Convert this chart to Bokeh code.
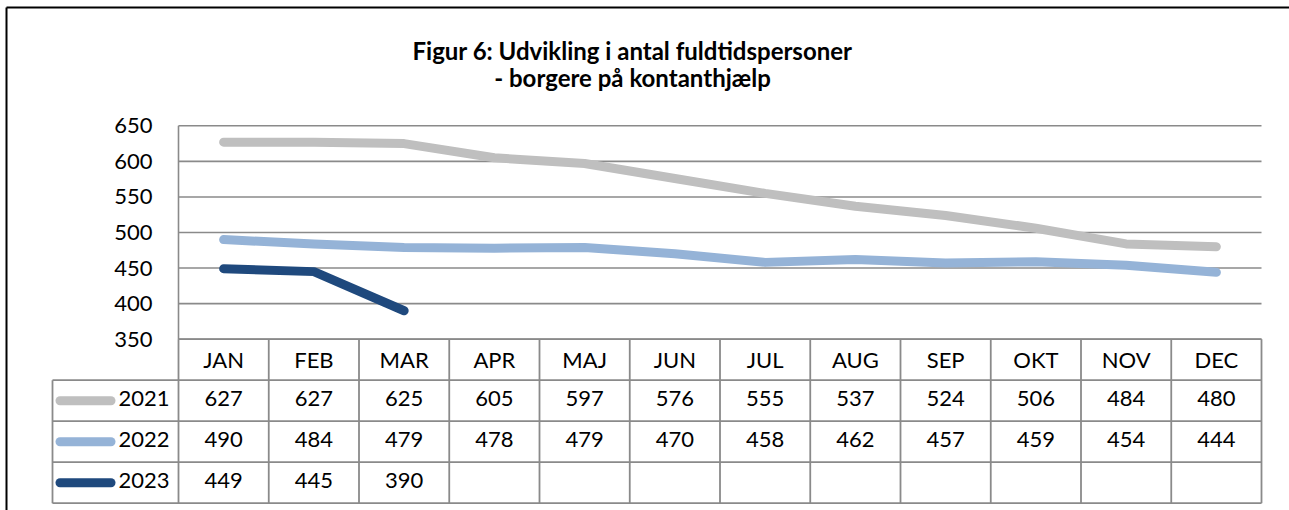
from bokeh.plotting import figure
from bokeh.models import Range1d
from bokeh.core.properties import value
from bokeh.embed import file_html
from bokeh.resources import INLINE

# ---------------- data ----------------
months = ["JAN", "FEB", "MAR", "APR", "MAJ", "JUN", "JUL", "AUG", "SEP", "OKT", "NOV", "DEC"]
years = ["2021", "2022", "2023"]
v2021 = [627, 627, 625, 605, 597, 576, 555, 537, 524, 506, 484, 480]
v2022 = [490, 484, 479, 478, 479, 470, 458, 462, 457, 459, 454, 444]
v2023 = [449, 445, 390]
y_ticks = [350, 400, 450, 500, 550, 600, 650]
title_lines = ["Figur 6: Udvikling i antal fuldtidspersoner", "- borgere på kontanthjælp"]

# ---------------- styles / layout ----------------
colors = ["#BFBFBF", "#95B3D7", "#1F497D"]
series = [v2021, v2022, v2023]
FONT = value("Lato")
GRID = "#8a8a8a"

W, H = 1289, 510
OX, OY = 0, 0            # canvas origin on the page
PL, PR = 178, 1261       # plot area left/right (page px)
Y650, Y350 = 125.3, 338.7
ROW_H = 41.0
LEG_L = 52
BX, BY = 6, 7            # outer chart border

colw = (PR - PL) / len(months)
kv = (Y350 - Y650) / (y_ticks[-1] - y_ticks[0])


def ux(px):
    return (px - PL) / colw


def vy(py):
    return y_ticks[-1] + (Y650 - py) / kv


def ty(py):
    return (py - Y350) / ROW_H


p = figure(width=W, height=H,
           x_range=Range1d(ux(OX), ux(OX + W)),
           y_range=Range1d(vy(OY + H), vy(OY)),
           x_axis_location=None, y_axis_location=None,
           output_backend="svg", toolbar_location=None, min_border=0)
p.extra_y_ranges = {"tbl": Range1d(ty(OY + H), ty(OY))}
p.grid.visible = False
p.outline_line_color = None
p.background_fill_color = "white"
p.border_fill_color = "white"

# outer chart border (top / left)
p.segment(x0=[ux(BX), ux(BX)], y0=[ty(BY), ty(BY)], x1=[ux(OX + W), ux(BX)], y1=[ty(BY), ty(OY + H)],
          y_range_name="tbl", line_color="black", line_width=2)

# title
p.text(x=[ux(632)] * 2, y=[ty(50), ty(77)], text=title_lines, y_range_name="tbl",
       text_font=FONT, text_font_style="bold", text_font_size="24px",
       text_align="center", text_baseline="alphabetic", text_color="black")

# grid lines + axis line
n = len(months)
p.segment(x0=[0] * len(y_ticks), x1=[n] * len(y_ticks), y0=y_ticks, y1=y_ticks,
          line_color=GRID, line_width=1.6)
p.segment(x0=[0], x1=[0], y0=[y_ticks[0]], y1=[y_ticks[-1]], line_color=GRID, line_width=1.6)

# y tick labels
p.text(x=[ux(152)] * len(y_ticks), y=y_ticks, text=[str(t) for t in y_ticks],
       text_font=FONT, text_font_size="22px", text_align="right", text_baseline="middle",
       text_color="black")

# series lines
for vals, c in zip(series, colors):
    p.line(x=[i + 0.5 for i in range(len(vals))], y=vals, line_color=c, line_width=9,
           line_cap="round", line_join="round")

# ---------------- data table ----------------
nrows = len(years) + 1
# vertical lines
p.segment(x0=list(range(n + 1)), x1=list(range(n + 1)), y0=[0] * (n + 1), y1=[nrows] * (n + 1),
          y_range_name="tbl", line_color=GRID, line_width=1.8)
p.segment(x0=[ux(LEG_L)], x1=[ux(LEG_L)], y0=[1], y1=[nrows],
          y_range_name="tbl", line_color=GRID, line_width=1.8)
# horizontal lines
p.segment(x0=[0], x1=[n], y0=[0], y1=[0], y_range_name="tbl", line_color=GRID, line_width=1.8)
p.segment(x0=[ux(LEG_L)] * len(years), x1=[n] * len(years),
          y0=list(range(1, nrows)), y1=list(range(1, nrows)),
          y_range_name="tbl", line_color=GRID, line_width=1.8)
p.segment(x0=[ux(LEG_L)], x1=[n], y0=[nrows], y1=[nrows],
          y_range_name="tbl", line_color=GRID, line_width=1.8)

# header
p.text(x=[i + 0.5 for i in range(n)], y=[0.5] * n, text=months, y_range_name="tbl",
       text_font=FONT, text_font_size="22px", text_align="center", text_baseline="middle",
       text_color="black")

# values
for r, vals in enumerate(series, start=1):
    p.text(x=[i + 0.5 for i in range(len(vals))], y=[r + 0.45] * len(vals),
           text=[str(v) for v in vals], y_range_name="tbl",
           text_font=FONT, text_font_size="22px", text_align="center", text_baseline="middle",
           text_color="black")

# legend keys in the table
for r, (yr, c) in enumerate(zip(years, colors), start=1):
    p.segment(x0=[ux(59.5)], x1=[ux(110.5)], y0=[r + 0.5], y1=[r + 0.5], y_range_name="tbl",
              line_color=c, line_width=9, line_cap="round")
    p.text(x=[ux(169)], y=[r + 0.45], text=[yr], y_range_name="tbl",
           text_font=FONT, text_font_size="22px", text_align="right", text_baseline="middle",
           text_color="black")

open("out.html", "w").write(file_html(p, INLINE))
